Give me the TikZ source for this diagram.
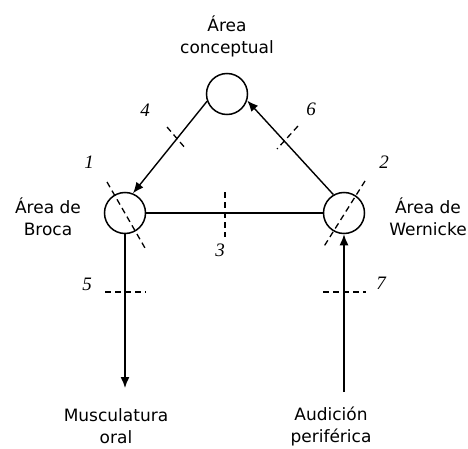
\documentclass[tikz,border=0pt]{standalone}
\usepackage{fontspec}
\setmainfont{DejaVu Sans}
\newfontfamily\numfont{Liberation Serif}
\usetikzlibrary{arrows.meta,calc}
\begin{document}
\begin{tikzpicture}[x=1pt,y=-1pt,
  area/.style={circle,draw,line width=1.5pt,minimum size=41pt,inner sep=0pt},
  lbl/.style={align=center,font=\fontsize{17}{22}\selectfont},
  num/.style={font=\numfont\itshape\fontsize{19}{19}\selectfont},
  conn/.style={line width=1.4pt},
  arr/.style={conn,-{Latex[length=11pt,width=9pt]}},
  tick/.style={line width=1.3pt,dash pattern=on 6pt off 4pt}]
\useasboundingbox (0,0) rectangle (468,449);
\node[area] (c) at (227,94) {};
\node[area] (b) at (125,213) {};
\node[area] (w) at (344,213) {};
\node[lbl] (tc) at (227,36) {Área\\conceptual};
\node[lbl] (tb) at (48,217) {Área de\\Broca};
\node[lbl] (tw) at (428,217) {Área de\\Wernicke};
\node[lbl] (tm) at (116,426) {Musculatura\\oral};
\node[lbl] (ta) at (331,426) {Audición\\periférica};
\coordinate (mend) at (125,388);
\coordinate (astart) at (344,392);
% connectors
\draw[arr] (c.200) -- (b.68);
\draw[arr] (w.120) -- (c.-18);
\draw[conn] (b.east) -- (w.west);
\draw[arr] (b.south) -- (mend);
\draw[arr] (astart) -- (w.south);
% ticks
\coordinate (t4a) at (167,127); \coordinate (t4b) at (186,149);
\coordinate (t6a) at (298,126); \coordinate (t6b) at (277,149);
\coordinate (t1a) at (107,182); \coordinate (t1b) at (145,248);
\coordinate (t2a) at (365,181); \coordinate (t2b) at (323,248);
\coordinate (t3a) at (225,192); \coordinate (t3b) at (225,237);
\coordinate (t5a) at (105,292); \coordinate (t5b) at (146,292);
\coordinate (t7a) at (323,292); \coordinate (t7b) at (366,292);
\foreach \t in {1,...,7}{\draw[tick] (t\t a) -- (t\t b);}
% numbers
\node[num] (n1) at (89,162) {1};
\node[num] (n2) at (384,162) {2};
\node[num] (n3) at (220,250) {3};
\node[num] (n4) at (145,110) {4};
\node[num] (n5) at (87,284) {5};
\node[num] (n6) at (311,109) {6};
\node[num] (n7) at (381,283) {7};
\end{tikzpicture}
\end{document}
